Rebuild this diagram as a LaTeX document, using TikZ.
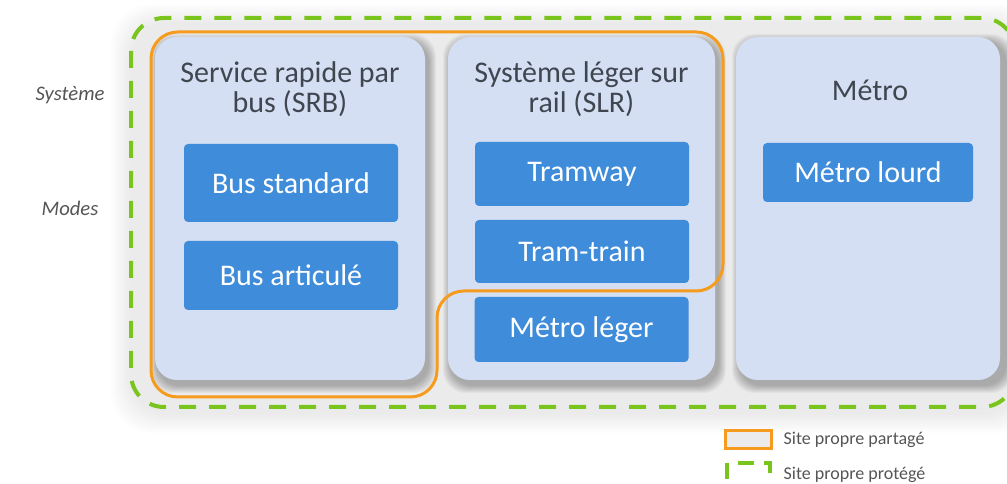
\documentclass[tikz,border=0pt]{standalone}
\usepackage{fontspec}
\setmainfont{Carlito}
\definecolor{panelfill}{RGB}{212,223,243}
\definecolor{boxblue}{RGB}{62,140,218}
\definecolor{titlegray}{RGB}{64,70,80}
\definecolor{orangeline}{RGB}{245,155,30}
\definecolor{greenline}{RGB}{122,196,30}
\definecolor{labelgray}{RGB}{85,85,85}
\begin{document}
\begin{tikzpicture}[x=0.75pt,y=-0.75pt,
  panel/.style={fill=panelfill, draw=none, rounded corners=16.5pt, inner sep=0pt, minimum height=257.25pt},
  modebox/.style={fill=boxblue, draw=none, rounded corners=3pt, text=white, inner sep=0pt,
    minimum width=160.5pt, font=\fontsize{22.5}{27}\selectfont},
  paneltitle/.style={text=titlegray, align=center, font=\fontsize{22.5}{22.5}\selectfont},
  sidelabel/.style={text=labelgray, font=\fontsize{15.5}{18}\selectfont\itshape},
  legendtext/.style={text=labelgray, anchor=west, font=\fontsize{13.5}{16}\selectfont},
  shared/.style={draw=orangeline, line width=2.25pt},
  protected/.style={draw=greenline, line width=3pt, dash pattern=on 12.75pt off 9.75pt},
  shadowlayer/.style={fill=black, opacity=0.04, draw=none}
]
\useasboundingbox (0,0) rectangle (1007,484);
\clip (0,0) rectangle (1007,484);

% soft outer glow round the whole group
\foreach \i in {1,...,10}
  \fill[black, opacity=0.006, rounded corners=30pt] (131-\i*2,18-\i*2+6) rectangle (1020+\i*2,407+\i*2+6);

% panel shadows
\foreach \a/\b in {155/425, 448/715, 737/1003}
  \foreach \i in {1,...,8}
    \fill[shadowlayer, rounded corners=17pt] (\a-\i+3,37-\i+5) rectangle (\b+\i+3,380+\i+5);

% panels
\node[panel, minimum width=202.5pt] (p1) at (290,208.5) {};
\node[panel, minimum width=200.25pt] (p2) at (581.5,208.5) {};
\node[panel, minimum width=198pt] (p3) at (868,208.5) {};

% panel titles
\node[paneltitle] (t1) at (290,89) {Service rapide par\\bus (SRB)};
\node[paneltitle] (t2) at (581.5,89) {Système léger sur\\rail (SLR)};
\node[paneltitle] (t3) at (870,90) {Métro};

% mode boxes
\node[modebox, minimum height=58.5pt] (m1) at (291,183) {Bus standard};
\node[modebox, minimum height=51.75pt] (m2) at (291,275.5) {Bus articulé};
\node[modebox, minimum height=48pt] (m3) at (582,174) {Tramway};
\node[modebox, minimum height=47.25pt] (m4) at (582,251.5) {Tram-train};
\node[modebox, minimum height=48.75pt] (m5) at (581.5,329.5) {Métro léger};
\node[modebox, minimum width=157.5pt, minimum height=44.25pt] (m6) at (868,172.5) {Métro lourd};

% site propre partagé (orange)
\draw[shared, rounded corners=20pt]
  (151,200) -- (151,32) -- (723,32) -- (723,291) -- (437,291) -- (437,397) -- (151,397) -- cycle;

% site propre protégé (green dashed)
\draw[protected, rounded corners=24.75pt] (131,18) rectangle (1015,407);

% side labels
\node[sidelabel] (ls) at (70,95) {Système};
\node[sidelabel] (lm) at (70,208) {Modes};

% legend
\draw[shared, fill=black!8] (725,431) rectangle (771,449);
\node[legendtext] (lg1) at (779,440) {Site propre partagé};
\draw[protected, line width=3pt, dash pattern=on 12pt off 8pt] (727,463) rectangle (770,500);
\node[legendtext] (lg2) at (779,475) {Site propre protégé};
\end{tikzpicture}
\end{document}
